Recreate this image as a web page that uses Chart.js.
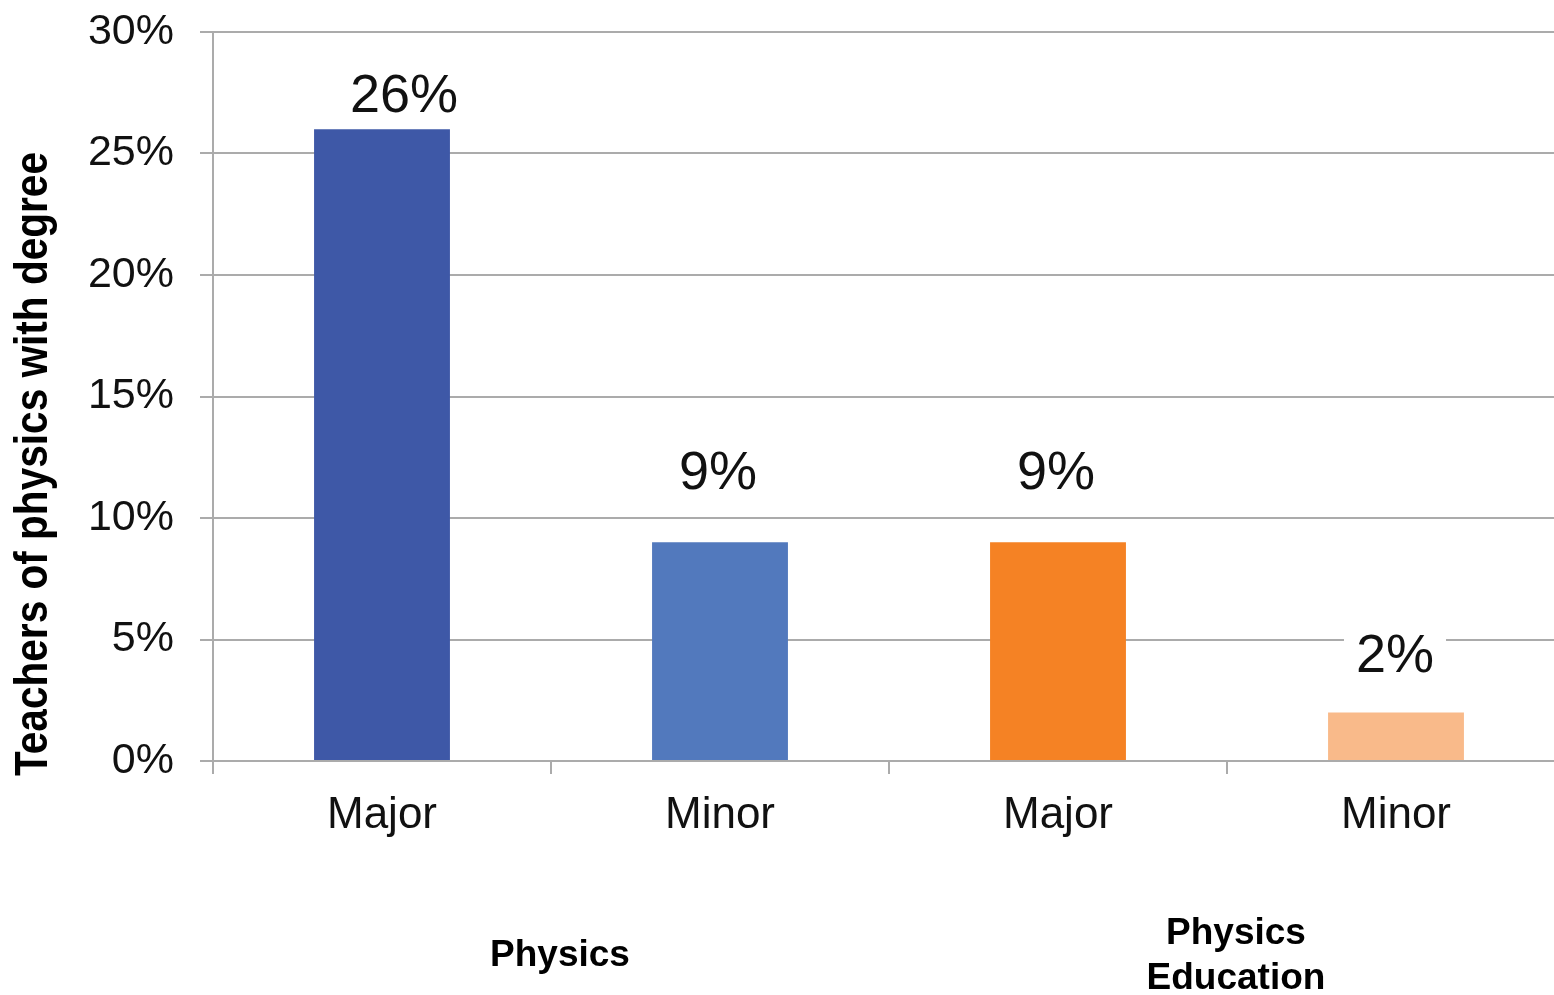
<!DOCTYPE html>
<html>
<head>
<meta charset="utf-8">
<script src="https://cdn.jsdelivr.net/npm/chart.js@4.4.1/dist/chart.umd.min.js"></script>
<style>
  html, body { margin: 0; padding: 0; background: #fff; overflow: hidden; }
  #wrap { width: 1568px; height: 995px; position: relative; }
</style>
</head>
<body>
<div id="wrap"><canvas id="c"></canvas></div>
<script>
// ---- data ----
const categories = ['Major', 'Minor', 'Major', 'Minor'];
const groupLabels = [['Physics'], ['Physics', 'Education']];
const values = [26, 9, 9, 2];
const valueLabels = ['26%', '9%', '9%', '2%'];
const yTicks = [0, 5, 10, 15, 20, 25, 30];
const yTitle = 'Teachers of physics with degree';

// ---- style ----
const barColors = ['#3E58A7', '#5279BD', '#F58224', '#F9BA8A'];
const gridColor = '#ABABAB';
const labelNudge = [[22, 17], [-2, 53], [-2, 53], [-1, 40]]; // [dx, gap above bar]
const titleLength = 624;

const valueLabelPlugin = {
  id: 'valueLabels',
  afterDatasetsDraw(chart) {
    const ctx = chart.ctx;
    const meta = chart.getDatasetMeta(0);
    ctx.save();
    ctx.font = '54px "Liberation Sans", Arial, sans-serif';
    ctx.textAlign = 'center';
    ctx.textBaseline = 'alphabetic';
    meta.data.forEach((bar, i) => {
      const x = bar.x + labelNudge[i][0];
      const y = bar.y - labelNudge[i][1];
      const w = ctx.measureText(valueLabels[i]).width;
      ctx.fillStyle = '#fff';
      ctx.fillRect(x - w / 2 - 12, y - 48, w + 24, 60);
      ctx.fillStyle = '#111';
      ctx.fillText(valueLabels[i], x, y);
    });
    ctx.restore();
  }
};

const yTitlePlugin = {
  id: 'yTitle',
  afterDraw(chart) {
    const ctx = chart.ctx;
    const area = chart.chartArea;
    ctx.save();
    ctx.font = 'bold 46px "Liberation Sans", Arial, sans-serif';
    const w = ctx.measureText(yTitle).width;
    ctx.translate(34, area.bottom + 15);
    ctx.rotate(-Math.PI / 2);
    ctx.scale(titleLength / w, 1);
    ctx.textAlign = 'left';
    ctx.textBaseline = 'middle';
    ctx.fillStyle = '#000';
    ctx.fillText(yTitle, 0, 0);
    ctx.restore();
  }
};

new Chart(document.getElementById('c'), {
  type: 'bar',
  data: {
    labels: categories,
    datasets: [{
      data: values,
      backgroundColor: barColors,
      borderWidth: 0,
      categoryPercentage: 1,
      barPercentage: 0.402
    }]
  },
  options: {
    responsive: true,
    maintainAspectRatio: false,
    animation: false,
    devicePixelRatio: 1,
    layout: { padding: { top: 32, right: 3, left: 0, bottom: 0 } },
    plugins: { legend: { display: false }, tooltip: { enabled: false } },
    scales: {
      x: {
        weight: 0,
        offset: true,
        grid: { display: true, drawOnChartArea: false, drawTicks: true, tickLength: 13, color: gridColor, lineWidth: 2, offset: true },
        border: { display: true, color: gridColor, width: 2 },
        ticks: {
          font: { family: '"Liberation Sans", Arial, sans-serif', size: 44 },
          color: '#111', padding: 15, maxRotation: 0, autoSkip: false
        },
        afterFit(scale) { scale.height = 90; }
      },
      group: {
        type: 'category',
        position: 'bottom',
        weight: 1,
        offset: true,
        labels: groupLabels,
        grid: { display: false, drawTicks: false },
        border: { display: false },
        ticks: {
          font: { family: '"Liberation Sans", Arial, sans-serif', size: 37, weight: 'bold' },
          color: '#000', padding: 83, crossAlign: 'center', maxRotation: 0, autoSkip: false,
          labelOffset: 9
        },
        afterFit(scale) { scale.height = 144; }
      },
      y: {
        min: 0, max: 30,
        afterBuildTicks(scale) { scale.ticks = yTicks.map(v => ({ value: v })); },
        grid: { color: gridColor, lineWidth: 2, tickLength: 13 },
        border: { display: true, color: gridColor, width: 2 },
        ticks: {
          font: { family: '"Liberation Sans", Arial, sans-serif', size: 43 },
          color: '#111', padding: 26,
          callback: v => v + '%'
        },
        afterFit(scale) {
          scale.width = 213;
          scale.paddingTop = 0;
          scale.paddingBottom = 0;
        }
      }
    }
  },
  plugins: [valueLabelPlugin, yTitlePlugin]
});
</script>
</body>
</html>
